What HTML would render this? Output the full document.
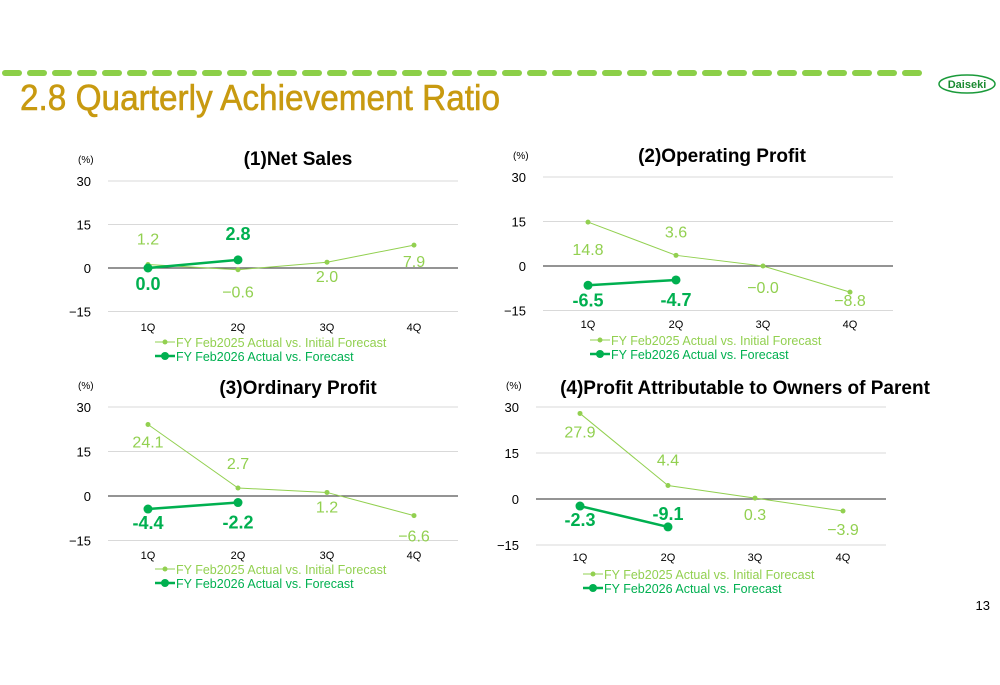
<!DOCTYPE html>
<html><head><meta charset="utf-8">
<style>
body{margin:0;width:1000px;height:685px;background:#fff;overflow:hidden;font-family:"Liberation Sans","Noto Sans CJK JP",sans-serif;}
svg{position:absolute;left:0;top:0}
</style></head>
<body>
<svg id="s" width="1000" height="685" xmlns="http://www.w3.org/2000/svg">
  <g id="dashes"></g>
  <text x="20" y="110" font-size="36" fill="#C89A10" stroke="#C89A10" stroke-width="0.6" textLength="480" lengthAdjust="spacingAndGlyphs">2.8  Quarterly Achievement Ratio</text>
  <g>
    <ellipse cx="967" cy="84" rx="28" ry="9" fill="#fff" stroke="#1a9a3a" stroke-width="1.5"/>
    <text x="967" y="88" font-size="11" font-weight="bold" fill="#1a8a30" text-anchor="middle">Daiseki</text>
  </g>
  <text x="990" y="610" font-size="13" text-anchor="end" fill="#000">13</text>
</svg>
<script>
const cats=["1Q","2Q","3Q","4Q"];
const ticks=[30,15,0,-15];
const titles=["(1)Net Sales","(2)Operating Profit","(3)Ordinary Profit","(4)Profit Attributable to Owners of Parent"];
const fy25NetSales=[1.2,-0.6,2.0,7.9];
const fy26NetSales=[0.0,2.8];
const fy25OpProfit=[14.8,3.6,-0.0,-8.8];
const fy26OpProfit=[-6.5,-4.7];
const fy25OrdProfit=[24.1,2.7,1.2,-6.6];
const fy26OrdProfit=[-4.4,-2.2];
const fy25NetProfit=[27.9,4.4,0.3,-3.9];
const fy26NetProfit=[-2.3,-9.1];
const legend25="FY Feb2025 Actual vs. Initial Forecast";
const legend26="FY Feb2026 Actual vs. Forecast";
const NS="http://www.w3.org/2000/svg";
const svg=document.getElementById('s');
function mk(t,a,p){const e=document.createElementNS(NS,t);for(const k in a)e.setAttribute(k,a[k]);(p||svg).appendChild(e);return e;}
const dg=document.getElementById('dashes');
for(let i=0;i<37;i++){mk('rect',{x:2+i*25,y:70,width:20,height:6,rx:3,fill:'#8ccf48'},dg);}
const charts=[
 {x0:108,x1:458,y30:181,y0:268,cx:[148,238,327,414],tx:298,ty:165,ly:342,xl:331,a:fy25NetSales,b:fy26NetSales,la:[-20,28,20,22],lb:[22,-20]},
 {x0:543,x1:893,y30:177,y0:266,cx:[588,676,763,850],tx:722,ty:162,ly:340,xl:328,a:fy25OpProfit,b:fy26OpProfit,la:[33,-18,27,14],lb:[21,26]},
 {x0:108,x1:458,y30:407,y0:496,cx:[148,238,327,414],tx:298,ty:394,ly:569,xl:559,a:fy25OrdProfit,b:fy26OrdProfit,la:[23,-19,20,26],lb:[20,26]},
 {x0:536,x1:886,y30:407,y0:499,cx:[580,668,755,843],tx:745,ty:394,ly:574,xl:561,a:fy25NetProfit,b:fy26NetProfit,la:[24,-20,22,24],lb:[20,-7]}
];
const c25="#92D050",c26="#00B050";
charts.forEach((c,ci)=>{
 const g=mk('g',{});
 
 
 const ys=v=>c.y0+(c.y30-c.y0)*v/30;
 const t=mk('text',{x:c.tx,y:c.ty,'font-size':19,'font-weight':'bold','text-anchor':'middle',fill:'#000'},g);t.textContent=titles[ci];
 
 
 const u=mk('text',{x:c.x0-30,y:c.y30-18,'font-size':10,fill:'#000'},g);u.textContent="(%)";
 
 
 ticks.forEach(v=>{
  const y=ys(v);
  const l=mk('line',{x1:c.x0,x2:c.x1,y1:y,y2:y,stroke:v===0?'#555':'#d9d9d9','stroke-width':v===0?1.3:1},g);
  
  
  const tt=mk('text',{x:c.x0-17,y:y+5,'font-size':13,'text-anchor':'end',fill:'#000'},g);tt.textContent=v<0?'\u2212'+(-v):String(v);
  
  
 });
 cats.forEach((s,i)=>{const tt=mk('text',{x:c.cx[i],y:c.xl,'font-size':11,'text-anchor':'middle',fill:'#000'},g);tt.textContent=s;
  
  });
 function series(arr,col,w,r,fs,fw,offs,name){
  const pts=arr.map((v,i)=>c.cx[i]+','+ys(v)).join(' ');
  const pl=mk('polyline',{points:pts,fill:'none',stroke:col,'stroke-width':w},g);
  
  
  arr.forEach((v,i)=>{
   const d=mk('circle',{cx:c.cx[i],cy:ys(v),r:r,fill:col},g);
   
   
   const lab=(Object.is(v,-0)||v<0)?(fw==='bold'?'-':'\u2212')+Math.abs(v).toFixed(1):v.toFixed(1);
   const tx=mk('text',{x:c.cx[i],y:ys(v)+offs[i],'font-size':fs,'font-weight':fw,'text-anchor':'middle',fill:col},g);tx.textContent=lab;
   
   
  });
 }
 series(c.a,c25,1,2.5,16,'normal',c.la,'fy2025');
 series(c.b,c26,2.5,4.5,18,'bold',c.lb,'fy2026');
 const lx=c.x0+47;
 [[legend25,c25,1,2.5,c.ly],[legend26,c26,2.5,4,c.ly+14]].forEach((L,k)=>{
  const lg=mk('g',{},g);
  
  
  mk('line',{x1:lx,x2:lx+20,y1:L[4],y2:L[4],stroke:L[1],'stroke-width':L[2]},lg);
  mk('circle',{cx:lx+10,cy:L[4],r:L[3],fill:L[1]},lg);
  const tx=mk('text',{x:lx+21,y:L[4]+5,'font-size':12.5,fill:L[1]},lg);tx.textContent=L[0];
 });
});
</script>
</body></html>
